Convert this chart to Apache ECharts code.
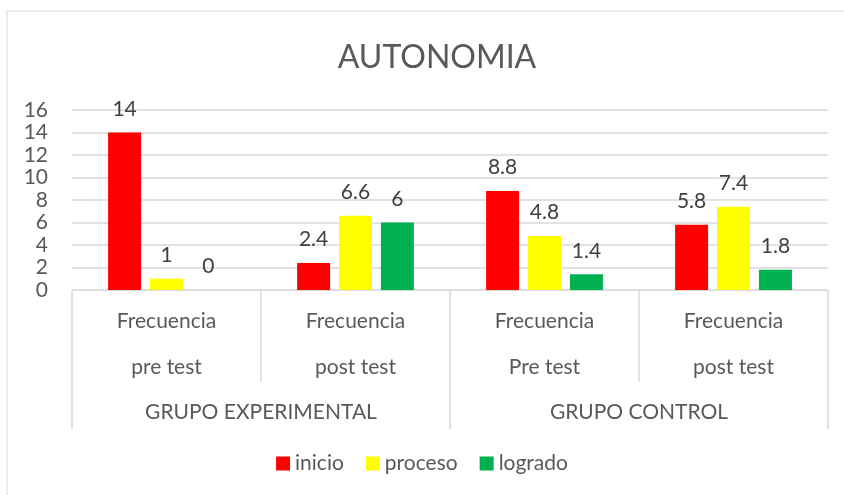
<!DOCTYPE html>
<html>
<head>
<meta charset="utf-8">
<script src="https://cdn.jsdelivr.net/npm/echarts@6/dist/echarts.min.js"></script>
<style>html,body{margin:0;padding:0;background:#fff}#c{width:844px;height:495px}</style>
</head>
<body>
<div id="c"></div>
<script>
const categories = ['Frecuencia\npre test', 'Frecuencia\npost test', 'Frecuencia\nPre test', 'Frecuencia\npost test'];
const groups = ['GRUPO EXPERIMENTAL', 'GRUPO CONTROL'];
const seriesNames = ['inicio', 'proceso', 'logrado'];
const inicio = [14, 2.4, 8.8, 5.8];
const proceso = [1, 6.6, 4.8, 7.4];
const logrado = [0, 6, 1.4, 1.8];
const yTicks = [0, 16, 2];

const FONT = 'Lato';
const TXT = '#595959';
const colors = ['#ff0000', '#ffff00', '#00b050'];
const values = [inicio, proceso, logrado];

const chart = echarts.init(document.getElementById('c'));
chart.setOption({
  animation: false,
  textStyle: { fontFamily: FONT },
  title: {
    text: 'AUTONOMIA', left: 432, top: 37, textAlign: 'center',
    textStyle: { fontFamily: FONT, fontSize: 32, fontWeight: 'normal', color: TXT }
  },
  graphic: [{
    type: 'rect', shape: { x: 7, y: 11, width: 900, height: 600 },
    style: { fill: 'none', stroke: '#d9d9d9', lineWidth: 1 }, silent: true, z: -10
  }],
  legend: {
    bottom: 16, left: 'center', itemWidth: 14, itemHeight: 14, itemGap: 22,
    icon: 'rect',
    textStyle: { fontFamily: FONT, fontSize: 21, color: TXT },
    data: seriesNames
  },
  grid: { left: 72, right: 16, top: 110, bottom: 205 },
  xAxis: [{
    type: 'category', data: categories, position: 'bottom',
    axisLine: { show: true, lineStyle: { color: '#d9d9d9', width: 1 } },
    axisTick: { show: true, length: 92, lineStyle: { color: '#d9d9d9', width: 1.5 } },
    axisLabel: { margin: 8, fontFamily: FONT, fontSize: 21, color: TXT, lineHeight: 46 }
  }, {
    type: 'category', data: groups, position: 'bottom',
    axisLine: { show: false },
    axisTick: { show: true, length: 139, lineStyle: { color: '#d9d9d9', width: 1.5 } },
    axisLabel: { margin: 112, fontFamily: FONT, fontSize: 21, color: TXT }
  }],
  yAxis: {
    type: 'value', min: yTicks[0], max: yTicks[1], interval: yTicks[2],
    axisLine: { show: false }, axisTick: { show: false },
    splitLine: { lineStyle: { color: '#d9d9d9', width: 1.5 } },
    axisLabel: { margin: 24, fontFamily: FONT, fontSize: 21, color: TXT }
  },
  series: seriesNames.map((n, i) => ({
    name: n, type: 'bar', xAxisIndex: 0, data: values[i],
    barWidth: 33, barGap: '27%',
    itemStyle: { color: colors[i] },
    label: { show: true, position: 'top', distance: 13, fontFamily: FONT, fontSize: 21, color: '#404040' }
  }))
});
</script>
</body>
</html>
